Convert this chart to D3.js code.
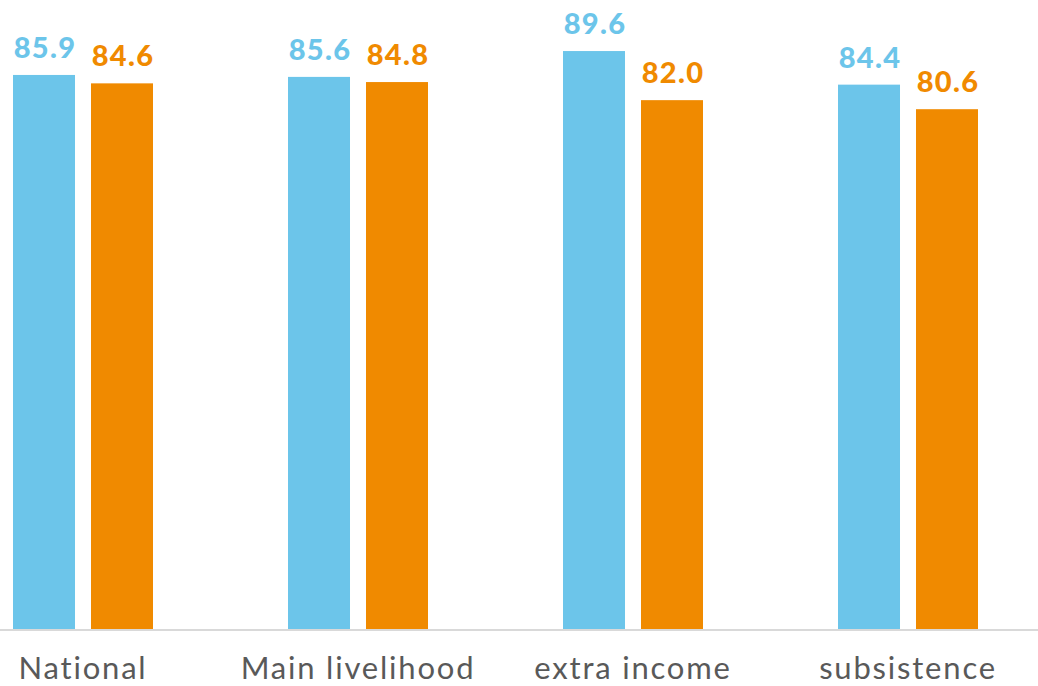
<!DOCTYPE html>
<html>
<head>
<meta charset="utf-8">
<script src="https://cdn.jsdelivr.net/npm/d3@7"></script>
<style>
  body { margin: 0; background: #fff; }
  svg { display: block; }
</style>
</head>
<body>
<script>
const categories = ["National", "Main livelihood", "extra income", "subsistence"];
const seriesNames = ["A", "B"];
const seriesA = [85.9, 85.6, 89.6, 84.4];
const seriesB = [84.6, 84.8, 82.0, 80.6];

const w = 1038;
const h = 686;
const baseY = 630;

const colors = { A: "#6cc5ea", B: "#f08a00" };

const svg = d3.select("body").append("svg").attr("width", w).attr("height", h);

const x0 = d3.scaleBand().domain(categories).range([-55.5, 1044.5]);
const x1 = d3.scaleBand().domain(seriesNames).range([68.5, 208.5]).paddingInner(0.205);
const y = d3.scaleLinear().domain([0, 97.5]).range([baseY, 0]);

const rows = categories.map((c, i) => ({ cat: c, vals: [
  { key: "A", v: seriesA[i] },
  { key: "B", v: seriesB[i] }
]}));

const groups = svg.selectAll("g.grp").data(rows).enter().append("g")
  .attr("class", "grp")
  .attr("transform", d => `translate(${x0(d.cat)},0)`);

groups.selectAll("rect").data(d => d.vals).enter().append("rect")
  .attr("x", d => x1(d.key))
  .attr("y", d => y(d.v))
  .attr("width", x1.bandwidth())
  .attr("height", d => baseY - y(d.v))
  .attr("fill", d => colors[d.key]);

//value labels over each bar
groups.selectAll("text.val").data(d => d.vals).enter().append("text")
  .attr("class", "val")
  .attr("x", d => x1(d.key) + x1.bandwidth() / 2 + 1)
  .attr("y", d => y(d.v) - 17)
  .attr("text-anchor", "middle")
  .style("font-family", "Lato, 'Open Sans', sans-serif")
  .style("font-weight", "900")
  .style("font-size", "29px")
  .style("letter-spacing", "1.3px")
  .style("fill", d => colors[d.key])
  .text(d => d.v.toFixed(1));

// baseline axis
const axis = svg.append("g").attr("transform", `translate(0,${baseY})`)
  .call(d3.axisBottom(x0).tickSize(0).tickPadding(27));
axis.select(".domain").attr("d", `M0,0H${w}`).attr("stroke", "#d9d9d9").attr("stroke-width", 2);
axis.selectAll("text")
  .attr("dx", 1)
  .style("font-family", "Lato, 'Open Sans', sans-serif")
  .style("font-size", "31px")
  .style("letter-spacing", "1.8px")
  .style("fill", "#595959");
</script>
</body>
</html>
